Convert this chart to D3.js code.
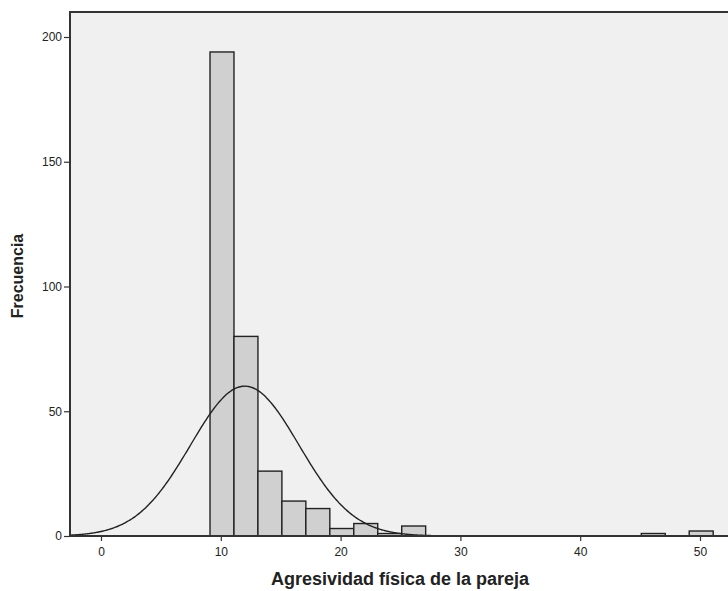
<!DOCTYPE html>
<html>
<head>
<meta charset="utf-8">
<script src="https://cdn.jsdelivr.net/npm/d3@7"></script>
<style>
  body { margin: 0; background: #fff; }
  text { font-family: "Liberation Sans", Arial, sans-serif; fill: #222; }
</style>
</head>
<body>
<script>
// histograma de agresividad fisica (ancho de clase 2)
const binStarts = [9.1, 11.1, 13.1, 15.1, 17.1, 19.1, 21.1, 23.1, 25.1, 45.1, 49.1];
const counts    = [194, 80, 26, 14, 11, 3, 5, 1, 4, 1, 2];
const binWidth = 2;
const xTicks = [0, 10, 20, 30, 40, 50];
const yTicks = [0, 50, 100, 150, 200];
// curva normal ajustada
const media = 12.0, desv = 4.53;
const n = d3.sum(counts);

const W = 728, H = 591;
const svg = d3.select("body").append("svg").attr("width", W).attr("height", H);

const x = d3.scaleLinear().domain([0, 50]).range([101, 700]);
const y = d3.scaleLinear().domain([0, 200]).range([536, 37]);
const pLeft = 70, pTop = 12, pRight = 760, pBottom = 536;

// fondo del area de grafico
svg.append("rect").attr("x", pLeft).attr("y", pTop)
  .attr("width", pRight - pLeft).attr("height", pBottom - pTop)
  .attr("fill", "#f0f0f0");

// barras
svg.selectAll("rect.bar").data(binStarts).enter().append("rect")
  .attr("class", "bar")
  .attr("x", (d) => x(d))
  .attr("y", (d, i) => y(counts[i]))
  .attr("width", (d) => x(d + binWidth) - x(d))
  .attr("height", (d, i) => y(0) - y(counts[i]))
  .attr("fill", "#d0d0d0").attr("stroke", "#222").attr("stroke-width", 1.4);

// curva normal
const pts = d3.range(x.invert(pLeft), x.invert(pRight), 0.1).map(v => [v,
  n * binWidth / (desv * Math.sqrt(2 * Math.PI)) * Math.exp(-0.5 * Math.pow((v - media) / desv, 2))]);
svg.append("path").datum(pts)
  .attr("d", d3.line().x(d => x(d[0])).y(d => y(d[1])).curve(d3.curveBasis))
  .attr("fill", "none").attr("stroke", "#222").attr("stroke-width", 1.4);

// marco
svg.append("path")
  .attr("d", `M${pLeft},${pBottom}V${pTop}H${pRight}`)
  .attr("fill", "none").attr("stroke", "#333").attr("stroke-width", 2);

// ejes
const gx = svg.append("g").attr("transform", `translate(0,${pBottom})`)
  .call(d3.axisBottom(x).tickValues(xTicks).tickSize(5).tickPadding(6).tickFormat(d3.format("d")));
gx.select(".domain").attr("d", `M${pLeft},0H${pRight}`).attr("stroke", "#333").attr("stroke-width", 2);
gx.selectAll("text").style("font-size", "12px");

const gy = svg.append("g").attr("transform", `translate(${pLeft},0)`)
  .call(d3.axisLeft(y).tickValues(yTicks).tickSize(6).tickPadding(2).tickFormat(d3.format("d")));
gy.select(".domain").remove();
gy.selectAll("text").style("font-size", "12px");
svg.selectAll(".tick line").attr("stroke", "#333").attr("stroke-width", 1.2);

// titulos de ejes
svg.append("text").attr("x", 400).attr("y", 585).attr("text-anchor", "middle")
  .style("font-size", "18px").style("font-weight", "bold")
  .text("Agresividad física de la pareja");
svg.append("text").attr("transform", "translate(23,276) rotate(-90)")
  .attr("text-anchor", "middle")
  .style("font-size", "16px").style("font-weight", "bold")
  .text("Frecuencia");
</script>
</body>
</html>
